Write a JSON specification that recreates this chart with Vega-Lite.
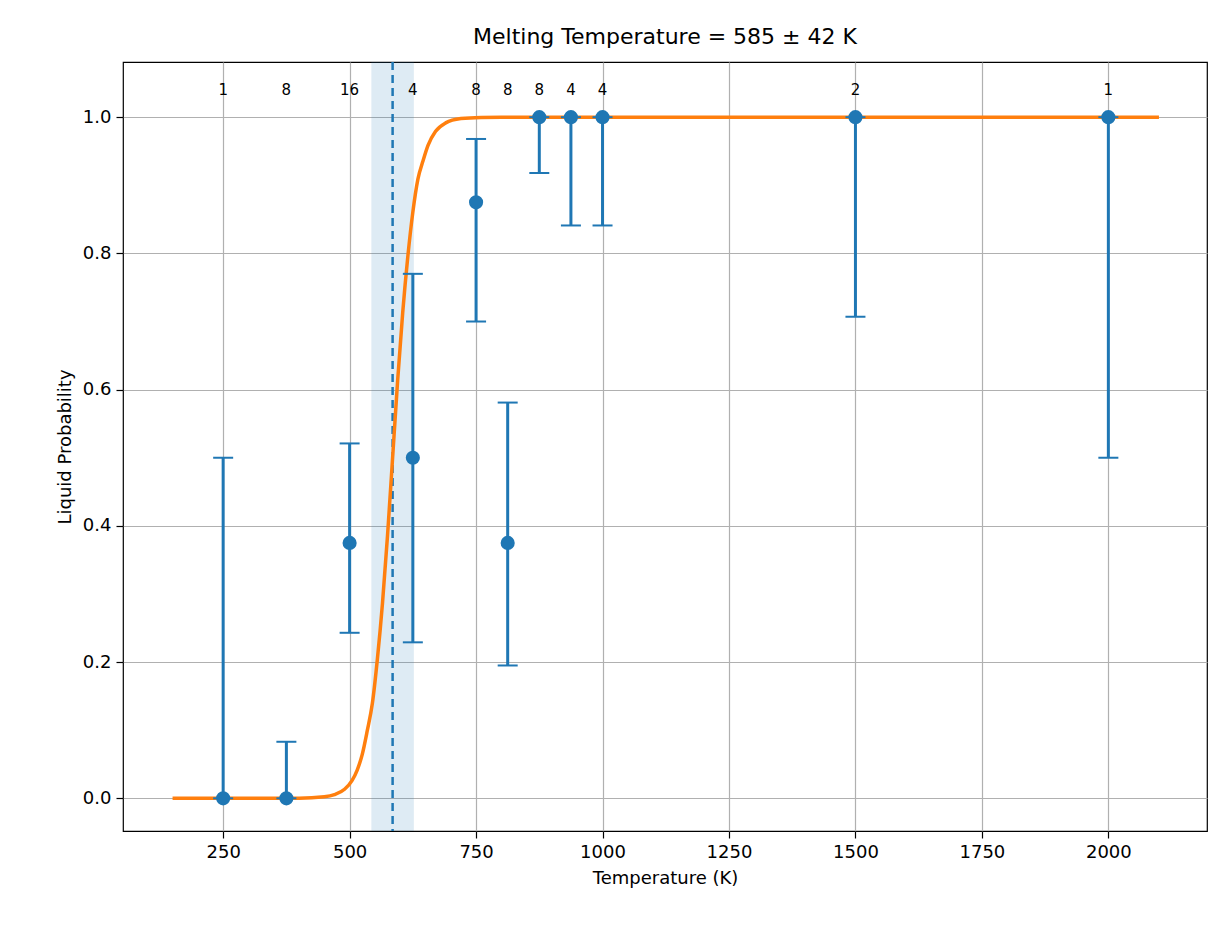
{
  "$schema": "https://vega.github.io/schema/vega-lite/v6.json",
  "width": 1084,
  "height": 769,
  "autosize": {"type": "none"},
  "padding": {"left": 123, "top": 62, "right": 20, "bottom": 108},
  "config": {
    "font": "DejaVu Sans",
    "view": {"stroke": "black", "strokeWidth": 1.2},
    "axis": {
      "grid": true, "gridColor": "#b0b0b0", "gridWidth": 1.2,
      "domain": false, "tickColor": "black", "tickSize": 7, "tickWidth": 1.2,
      "labelFontSize": 18, "labelColor": "black", "titleFontSize": 18,
      "titleFontWeight": "normal", "titleColor": "black", "labelPadding": 5, "titlePadding": 8
    }
  },
  "title": {"text": "Melting Temperature = 585 ± 42 K", "fontSize": 22, "fontWeight": "normal", "offset": 12},
  "datasets": {
    "pts": [
      {"T": 250, "p": 0, "lo": 0, "hi": 0.5, "n": "1"},
      {"T": 375, "p": 0, "lo": 0, "hi": 0.083, "n": "8"},
      {"T": 500, "p": 0.375, "lo": 0.243, "hi": 0.521, "n": "16"},
      {"T": 625, "p": 0.5, "lo": 0.229, "hi": 0.77, "n": "4"},
      {"T": 750, "p": 0.875, "lo": 0.7, "hi": 0.968, "n": "8"},
      {"T": 812.5, "p": 0.375, "lo": 0.195, "hi": 0.581, "n": "8"},
      {"T": 875, "p": 1, "lo": 0.918, "hi": 1, "n": "8"},
      {"T": 937.5, "p": 1, "lo": 0.841, "hi": 1, "n": "4"},
      {"T": 1000, "p": 1, "lo": 0.841, "hi": 1, "n": "4"},
      {"T": 1500, "p": 1, "lo": 0.707, "hi": 1, "n": "2"},
      {"T": 2000, "p": 1, "lo": 0.5, "hi": 1, "n": "1"}
    ],
    "fit": [
      {"T": 150, "p": 0}, {"T": 400, "p": 0.0002}, {"T": 450, "p": 0.0022},
      {"T": 470, "p": 0.0053}, {"T": 490, "p": 0.0132}, {"T": 505, "p": 0.0263},
      {"T": 515, "p": 0.0415}, {"T": 525, "p": 0.0645}, {"T": 535, "p": 0.0996},
      {"T": 545, "p": 0.1394}, {"T": 555, "p": 0.2052}, {"T": 565, "p": 0.2866},
      {"T": 575, "p": 0.3862}, {"T": 585, "p": 0.5}, {"T": 595, "p": 0.6138},
      {"T": 605, "p": 0.7134}, {"T": 615, "p": 0.7948}, {"T": 625, "p": 0.8606},
      {"T": 635, "p": 0.9091}, {"T": 645, "p": 0.9355}, {"T": 655, "p": 0.9585},
      {"T": 670, "p": 0.9792}, {"T": 690, "p": 0.9916}, {"T": 720, "p": 0.9979},
      {"T": 760, "p": 0.9997}, {"T": 800, "p": 1}, {"T": 2100, "p": 1}
    ],
    "melt": [{"Tm": 585, "lo": 543, "hi": 627}]
  },
  "encoding": {
    "x": {"field": "T", "type": "quantitative",
      "scale": {"domain": [52, 2195], "nice": false, "zero": false},
      "axis": {"values": [250, 500, 750, 1000, 1250, 1500, 1750, 2000], "format": "d", "title": "Temperature (K)"}},
    "y": {"field": "p", "type": "quantitative",
      "scale": {"domain": [-0.048, 1.081], "nice": false},
      "axis": {"values": [0, 0.2, 0.4, 0.6, 0.8, 1.0], "format": ".1f", "title": "Liquid Probability"}}
  },
  "layer": [
    {
      "data": {"name": "melt"},
      "mark": {"type": "rect", "color": "#1f77b4", "opacity": 0.15},
      "encoding": {"x": {"field": "lo", "type": "quantitative"}, "x2": {"field": "hi"}, "y": {"value": 0}, "y2": {"value": 769}}
    },
    {
      "data": {"name": "melt"},
      "mark": {"type": "rule", "color": "#1f77b4", "strokeWidth": 2.5, "strokeDash": [8, 5]},
      "encoding": {"x": {"field": "Tm", "type": "quantitative"}, "y": {"value": 0}, "y2": {"value": 769}}
    },
    {
      "data": {"name": "fit"},
      "mark": {"type": "line", "color": "#ff7f0e", "strokeWidth": 3.5, "interpolate": "monotone"}
    },
    {
      "data": {"name": "pts"},
      "mark": {"type": "rule", "color": "#1f77b4", "strokeWidth": 3}
      ,"encoding": {"y": {"field": "lo", "type": "quantitative"}, "y2": {"field": "hi"}}
    },
    {
      "data": {"name": "pts"},
      "mark": {"type": "tick", "orient": "horizontal", "color": "#1f77b4", "opacity": 1, "size": 20, "thickness": 2},
      "encoding": {"y": {"field": "lo", "type": "quantitative"}}
    },
    {
      "data": {"name": "pts"},
      "mark": {"type": "tick", "orient": "horizontal", "color": "#1f77b4", "opacity": 1, "size": 20, "thickness": 2},
      "encoding": {"y": {"field": "hi", "type": "quantitative"}}
    },
    {
      "data": {"name": "pts"},
      "mark": {"type": "circle", "color": "#1f77b4", "opacity": 1, "size": 200}
    },
    {
      "data": {"name": "pts"},
      "mark": {"type": "text", "fontSize": 15, "color": "black"},
      "encoding": {"y": {"datum": 1.04}, "text": {"field": "n"}}
    }
  ]
}
